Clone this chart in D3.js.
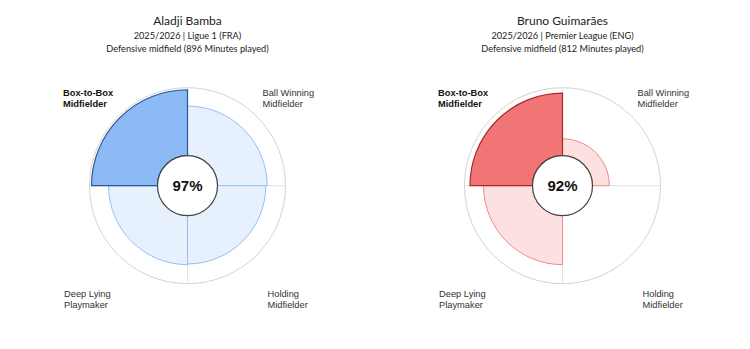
<!DOCTYPE html>
<html><head><meta charset="utf-8">
<script src="https://cdn.jsdelivr.net/npm/d3@7"></script>
<style>html,body{margin:0;padding:0;background:#fff;}svg{display:block;}</style>
</head><body>
<svg id="c" width="750" height="349"></svg>
<script>
const categories = ["Ball Winning Midfielder","Holding Midfielder","Deep Lying Playmaker","Box-to-Box Midfielder"];
const labelLines = [["Ball Winning","Midfielder"],["Holding","Midfielder"],["Deep Lying","Playmaker"],["Box-to-Box","Midfielder"]];
const playerNames = ["Aladji Bamba","Bruno Guimarães"];
const seasonLines = ["2025/2026 | Ligue 1 (FRA)","2025/2026 | Premier League (ENG)"];
const positionLines = ["Defensive midfield (896 Minutes played)","Defensive midfield (812 Minutes played)"];
const bambaValues = [73, 71, 72, 97];
const brunoValues = [25, 0, 72, 92];
const centerLabels = ["97%","92%"];

const palettes = [
  {main:"#8bbaf7", mainStroke:"#2b5790", light:"#e7f1fd", lightStroke:"#93c0f3"},
  {main:"#f27575", mainStroke:"#a82a2a", light:"#fde1e1", lightStroke:"#ef8a8a"}
];
const allValues = [bambaValues, brunoValues];

const svg = d3.select("#c");
const inner = 30, outer = 98;
const r = d3.scaleLinear().domain([0,100]).range([inner, outer]);
const angle = d3.scaleBand().domain(categories).range([0, 2*Math.PI]);
const labelPos = [{dx:75,dy:-90},{dx:80,dy:111},{dx:-123.5,dy:111},{dx:-124.5,dy:-90}];

allValues.forEach((vals, p) => {
  const cx = 187.5 + p*375, cy = 185.7;
  const pal = palettes[p];
  const maxIdx = vals.indexOf(d3.max(vals));
  const head = svg.append("g").attr("text-anchor","middle").attr("fill","#222")
    .style("font-family","Lato,'Noto Sans',sans-serif");
  head.append("text").attr("x",cx).attr("y",24.5).style("font-size","12px").text(playerNames[p]);
  head.append("text").attr("x",cx).attr("y",38.5).style("font-size","9.2px").text(seasonLines[p]);
  head.append("text").attr("x",cx).attr("y",52).style("font-size","9.2px").text(positionLines[p]);

  const g = svg.append("g").attr("transform",`translate(${cx},${cy})`);
  g.append("circle").attr("r", r(100)).attr("fill","none").attr("stroke","#d4d4d4").attr("stroke-width",1);
  categories.forEach(c => {
    const a = angle(c);
    g.append("line")
      .attr("x1", Math.sin(a)*inner).attr("y1", -Math.cos(a)*inner)
      .attr("x2", Math.sin(a)*r(100)).attr("y2", -Math.cos(a)*r(100))
      .attr("stroke","#e2e2e2").attr("stroke-width",1);
  });
  const arc = d3.arc().innerRadius(inner);
  categories.forEach((c, i) => {
    if (vals[i] <= 0) return;
    const isMax = i === maxIdx;
    g.append("path")
      .attr("d", arc({startAngle: angle(c), endAngle: angle(c)+angle.bandwidth(), outerRadius: r(vals[i])}))
      .attr("fill", isMax ? pal.main : pal.light)
      .attr("stroke", isMax ? pal.mainStroke : pal.lightStroke)
      .attr("stroke-width", isMax ? 1.2 : 1);
  });
  g.append("circle").attr("r", inner).attr("fill","#fff").attr("stroke","#444").attr("stroke-width",1.2);
  g.append("text").attr("text-anchor","middle").attr("dy","0.36em")
    .style("font-family","'Liberation Sans',Arial,sans-serif").style("font-weight","bold").style("font-size","15px")
    .attr("fill","#111").text(centerLabels[p]);

  categories.forEach((c, i) => {
    const t = g.append("text").attr("x", labelPos[i].dx).attr("y", labelPos[i].dy)
      .style("font-family","'Liberation Sans',Arial,sans-serif").style("font-size","9.3px")
      .style("font-weight", i === maxIdx ? "bold" : "normal")
      .attr("fill", i === maxIdx ? "#111" : "#333");
    labelLines[i].forEach((ln, k) => {
      t.append("tspan").attr("x", labelPos[i].dx).attr("dy", k === 0 ? 0 : 11.5).text(ln);
    });
  });
});
</script>
</body></html>
